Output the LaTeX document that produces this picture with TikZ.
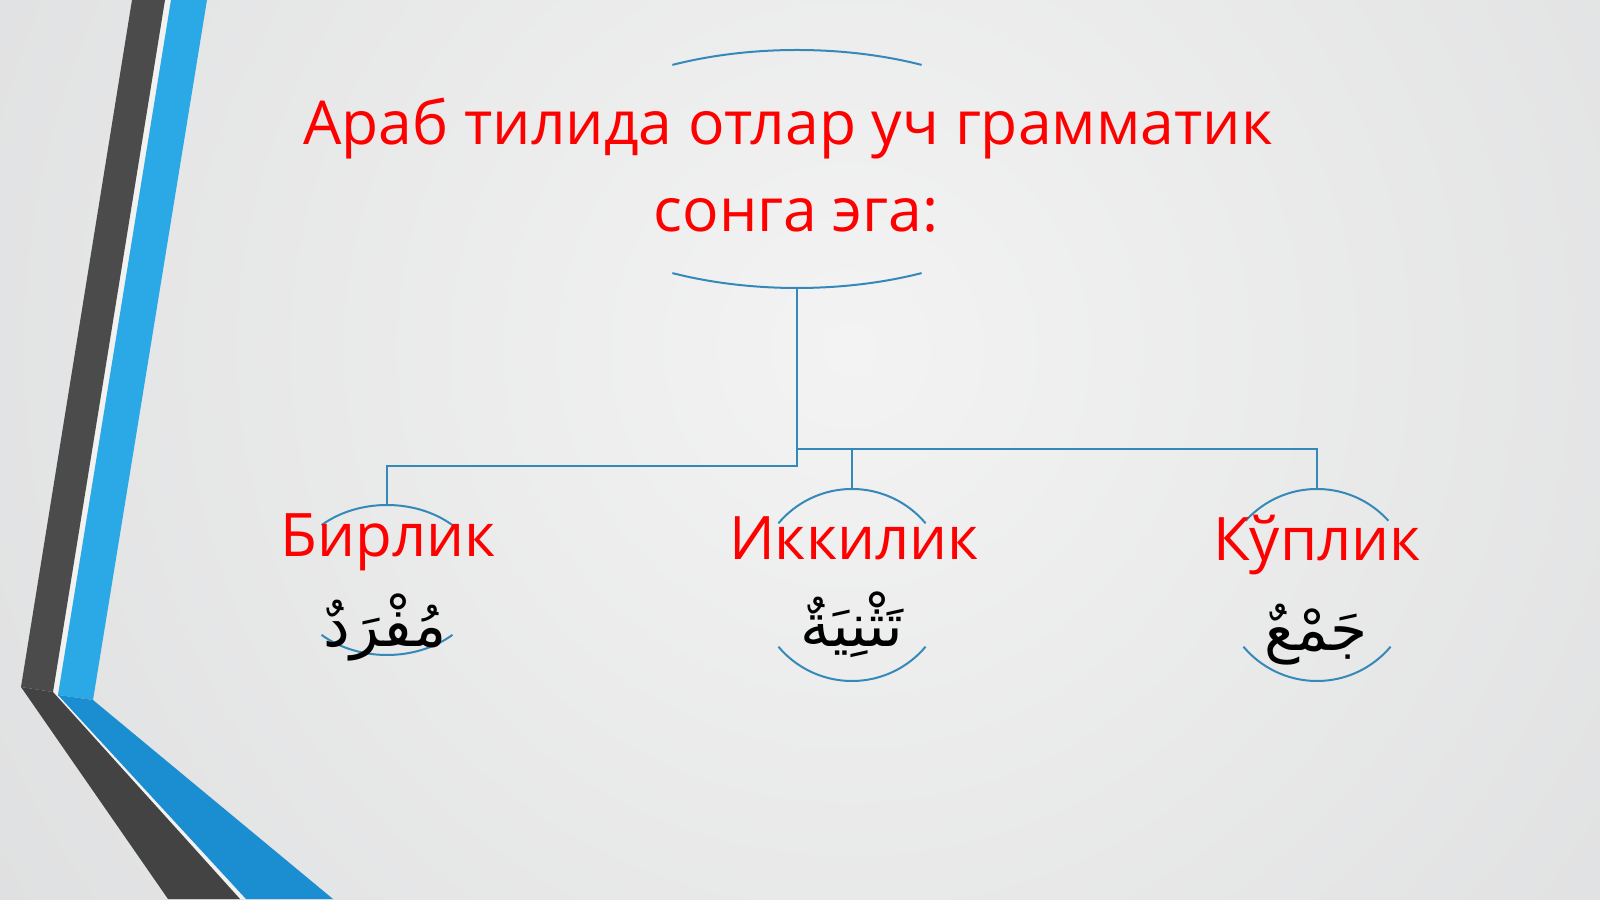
\documentclass[tikz,border=0pt]{standalone}
\usepackage{fontspec}
\setmainfont{Open Sans}
\newfontfamily\arabicfont[Script=Arabic]{DejaVu Sans}
\TeXXeTstate=1
\usetikzlibrary{shapes.geometric}
\definecolor{bgin}{HTML}{F3F3F3}
\definecolor{bgout}{HTML}{C4C6C8}
\definecolor{darkband}{HTML}{4B4B4B}
\definecolor{darkbandlow}{HTML}{434343}
\definecolor{blueband}{HTML}{2BA8E6}
\definecolor{bluebandlow}{HTML}{1A8ED0}
\definecolor{gapcol}{HTML}{F2F2F2}
\definecolor{linecol}{HTML}{3589B8}
\definecolor{titlered}{HTML}{FF0000}
\tikzset{
  conn/.style={draw=linecol, line width=1pt},
  arcline/.style={draw=linecol, line width=1pt},
  shapebox/.style={ellipse, inner sep=0pt, outer sep=0pt},
  titletext/.style={text=titlered, font=\fontsize{30.3}{36}\selectfont, anchor=base, inner sep=0pt},
  nodetext/.style={text=titlered, font=\fontsize{30}{36}\selectfont, anchor=base, inner sep=0pt},
  arabtext/.style={text=black, font=\arabicfont\fontsize{30}{36}\selectfont, anchor=base, inner sep=0pt}
}
\begin{document}
\begin{tikzpicture}[x=0.5pt, y=0.5pt]
\useasboundingbox (0,0) rectangle (1600,899);
% background
\begin{scope}
\clip (0,0) rectangle (1600,899);
\shade[inner color=bgin, outer color=bgout] (-1550,-1850) rectangle (3250,2950);
\end{scope}
% left decoration
\fill[gapcol] (165,899) -- (53,207) -- (240,0) -- (246,0) -- (58,204) -- (171,899) -- cycle;
\fill[darkband] (132,899) -- (21,212) -- (53,207) -- (165,899) -- cycle;
\fill[darkbandlow] (21,212) -- (168,0) -- (240,0) -- (53,207) -- cycle;
\fill[blueband] (171,899) -- (58,204) -- (93,199) -- (207,899) -- cycle;
\fill[bluebandlow] (58,204) -- (246,0) -- (333,0) -- (93,199) -- cycle;
% shapes (invisible outlines)
\node[shapebox, minimum width=257pt, minimum height=119pt] (tshape) at (797,730) {};
\node[shapebox, minimum width=96pt, minimum height=75pt] (bshape) at (387,319) {};
\node[shapebox, minimum width=96pt, minimum height=96pt] (ishape) at (852,314) {};
\node[shapebox, minimum width=96pt, minimum height=96pt] (kshape) at (1317,314) {};
% arcs
\draw[arcline] (tshape.center) ++(61:257 and 119) arc[start angle=61, end angle=119, x radius=257, y radius=119];
\draw[arcline] (tshape.center) ++(241:257 and 119) arc[start angle=241, end angle=299, x radius=257, y radius=119];
\draw[arcline] (bshape.center) ++(47:96 and 75) arc[start angle=47, end angle=133, x radius=96, y radius=75];
\draw[arcline] (bshape.center) ++(227:96 and 75) arc[start angle=227, end angle=313, x radius=96, y radius=75];
\draw[arcline] (ishape.center) ++(40:96) arc[start angle=40, end angle=140, radius=96];
\draw[arcline] (ishape.center) ++(220:96) arc[start angle=220, end angle=320, radius=96];
\draw[arcline] (kshape.center) ++(42:96) arc[start angle=42, end angle=138, radius=96];
\draw[arcline] (kshape.center) ++(220:96) arc[start angle=220, end angle=320, radius=96];
% connectors
\coordinate (jb) at (797,433);
\coordinate (jr) at (797,450);
\draw[conn] (tshape.south) -- (jb) -| (bshape.north);
\draw[conn] (jr) -| (kshape.north);
\draw[conn] (ishape.north |- jr) -- (ishape.north);
% texts
\node[titletext] (title1) at (788,754) {Араб тилида отлар уч грамматик};
\node[titletext] (title2) at (796,667) {сонга эга:};
\node[nodetext] (birlik) at (388,342) {Бирлик};
\node[nodetext] (ikkilik) at (854,339) {Иккилик};
\node[nodetext] (kuplik) at (1317,338) {Кўплик};
\node[arabtext] (mufrad) at (385,252) {\beginR مُفْرَدٌ\endR};
\node[arabtext] (tasniya) at (852,252) {\beginR تَثْنِيَةٌ\endR};
\node[arabtext] (jam) at (1316,248) {\beginR جَمْعٌ\endR};
\end{tikzpicture}
\end{document}
